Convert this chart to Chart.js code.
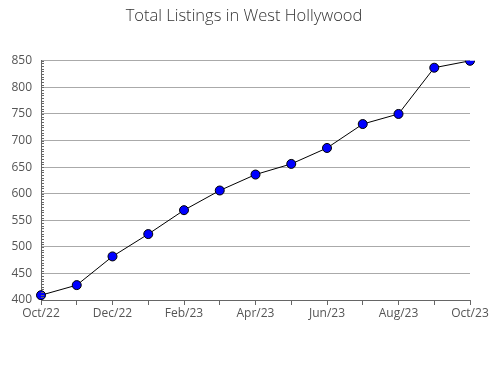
<!DOCTYPE html>
<html>
<head>
<meta charset="utf-8">
<script src="https://cdn.jsdelivr.net/npm/chart.js@4"></script>
<style>
html,body{margin:0;padding:0;background:#fff;}
#wrap{width:490px;height:380px;}
</style>
</head>
<body>
<div id="wrap"><canvas id="c" width="490" height="380"></canvas></div>
<script>
const categories = ["Oct/22","Nov/22","Dec/22","Jan/23","Feb/23","Mar/23","Apr/23","May/23","Jun/23","Jul/23","Aug/23","Sep/23","Oct/23"];
const listings = [409, 428, 482, 524, 569, 606, 636, 656, 686, 731, 750, 837, 850];
const xTickLabels = ["Oct/22","","Dec/22","","Feb/23","","Apr/23","","Jun/23","","Aug/23","","Oct/23"];
const yMin = 400, yMax = 850, yStep = 50, yMinorStep = 5;

const minorTicks = {
  id: 'minorTicks',
  afterDatasetsDraw(chart) {
    const y = chart.scales.y, ctx = chart.ctx, left = chart.chartArea.left;
    ctx.save();
    ctx.strokeStyle = '#666';
    ctx.lineWidth = 1;
    ctx.beginPath();
    for (let v = yMin; v <= yMax; v += yMinorStep) {
      const py = Math.round(y.getPixelForValue(v)) + 0.5;
      ctx.moveTo(left, py);
      ctx.lineTo(left + 3, py);
    }
    ctx.stroke();
    ctx.restore();
  }
};

new Chart(document.getElementById('c'), {
  type: 'line',
  data: {
    labels: categories,
    datasets: [{
      data: listings,
      yAxisID: 'y',
      borderColor: '#000',
      borderWidth: 1,
      pointBackgroundColor: '#0000ff',
      pointBorderColor: '#000',
      pointBorderWidth: 1,
      pointRadius: 4.5,
      tension: 0,
      fill: false
    }]
  },
  options: {
    responsive: false,
    animation: false,
    devicePixelRatio: 1,
    layout: { padding: { left: 0, right: 2, top: 0, bottom: 60 } },
    plugins: {
      legend: { display: false },
      tooltip: { enabled: false },
      title: {
        display: true,
        text: 'Total Listings in West Hollywood',
        color: '#333',
        font: { family: 'Open Sans', size: 16.5, weight: 300 },
        padding: { top: 6, bottom: 35 }
      }
    },
    scales: {
      x: {
        type: 'category',
        offset: false,
        afterFit(s) { s.height = 20; },
        grid: { drawOnChartArea: false, drawTicks: true, tickLength: 5, color: '#666' },
        border: { color: '#666', width: 1 },
        ticks: {
          autoSkip: false, maxRotation: 0, padding: 1,
          color: '#555', font: { family: 'Open Sans', size: 12 },
          callback: (v, i) => xTickLabels[i]
        }
      },
      y: {
        min: yMin, max: yMax,
        afterFit(s) { s.width = 41; },
        grid: { color: '#aaa', drawTicks: false },
        border: { color: '#666', width: 1 },
        ticks: {
          stepSize: yStep, padding: 9,
          color: '#555', font: { family: 'Open Sans', size: 12 }
        }
      },
      yRight: {
        position: 'right',
        display: true,
        afterFit(s) { s.width = 18; },
        grid: { display: false, drawTicks: false },
        border: { display: false },
        ticks: { display: false }
      }
    }
  },
  plugins: [minorTicks]
});
</script>
</body>
</html>
